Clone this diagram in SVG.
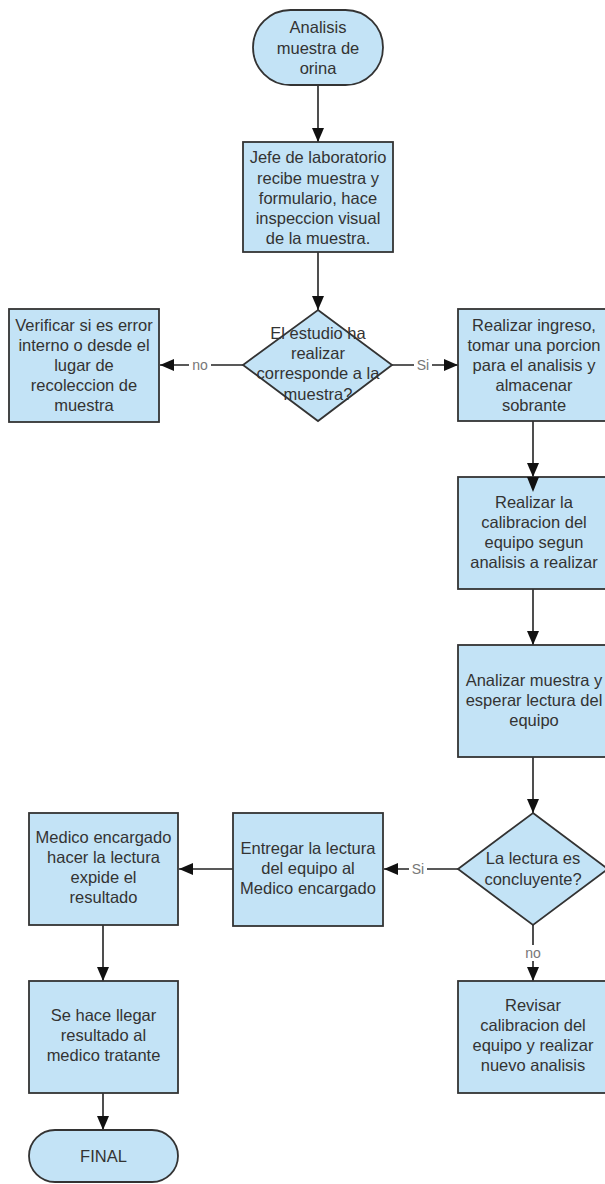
<svg xmlns="http://www.w3.org/2000/svg" width="605" height="1184" viewBox="0 0 605 1184">
<style>
.shape{fill:#c3e3f6;stroke:#333333;stroke-width:1.8}
.t{font-family:"Liberation Sans",Arial,sans-serif;font-size:16.5px;fill:#333333;text-anchor:middle}
.lbl{font-family:"Liberation Sans",Arial,sans-serif;font-size:14px;fill:#777777;text-anchor:middle}
.c{fill:none;stroke:#222222;stroke-width:1.6}
</style>
<defs>
<marker id="ah" markerUnits="userSpaceOnUse" markerWidth="14" markerHeight="12" refX="14" refY="6" orient="auto">
<path d="M0,0 L14,6 L0,12 z" fill="#111111"/>
</marker>
</defs>
<rect width="605" height="1184" fill="#ffffff"/>
<g id="connectors">
<line class="c" x1="318" y1="85" x2="318" y2="142" marker-end="url(#ah)"/>
<line class="c" x1="318" y1="252" x2="318" y2="310" marker-end="url(#ah)"/>
<line class="c" x1="243" y1="365" x2="160" y2="365" marker-end="url(#ah)"/>
<line class="c" x1="392" y1="365" x2="458" y2="365" marker-end="url(#ah)"/>
<line class="c" x1="533" y1="421" x2="533" y2="477" marker-end="url(#ah)"/>
<line class="c" x1="533" y1="589" x2="533" y2="645" marker-end="url(#ah)"/>
<line class="c" x1="533" y1="757" x2="533" y2="813" marker-end="url(#ah)"/>
<line class="c" x1="458" y1="869" x2="384" y2="869" marker-end="url(#ah)"/>
<line class="c" x1="533" y1="925" x2="533" y2="981" marker-end="url(#ah)"/>
<line class="c" x1="233" y1="869" x2="179" y2="869" marker-end="url(#ah)"/>
<line class="c" x1="103" y1="925" x2="103" y2="981" marker-end="url(#ah)"/>
<line class="c" x1="103" y1="1093" x2="103" y2="1130" marker-end="url(#ah)"/>
<rect x="189" y="357" width="22" height="16" fill="#ffffff"/>
<text class="lbl" x="200" y="370">no</text>
<rect x="414" y="357" width="18" height="16" fill="#ffffff"/>
<text class="lbl" x="423" y="370">Si</text>
<rect x="409" y="861" width="18" height="16" fill="#ffffff"/>
<text class="lbl" x="418" y="874">Si</text>
<rect x="522" y="945" width="22" height="16" fill="#ffffff"/>
<text class="lbl" x="533" y="958">no</text>
</g>
<g id="start">
<rect class="shape" x="253" y="10" width="130" height="75" rx="37.5" ry="37.5"/>
<text class="t" x="318" y="33">Analisis</text>
<text class="t" x="318" y="54">muestra de</text>
<text class="t" x="318" y="74">orina</text>
</g>
<g id="jefe">
<rect class="shape" x="243" y="142" width="150" height="110"/>
<text class="t" x="318" y="163">Jefe de laboratorio</text>
<text class="t" x="318" y="184">recibe muestra y</text>
<text class="t" x="318" y="204">formulario, hace</text>
<text class="t" x="318" y="224">inspeccion visual</text>
<text class="t" x="318" y="244">de la muestra.</text>
</g>
<g id="decision1">
<polygon class="shape" points="318,310 392,365 318,421 243,365"/>
<text class="t" x="318" y="339">El estudio ha</text>
<text class="t" x="318" y="359">realizar</text>
<text class="t" x="318" y="379">corresponde a la</text>
<text class="t" x="318" y="400">muestra?</text>
</g>
<g id="verificar">
<rect class="shape" x="9" y="309" width="150" height="113"/>
<text class="t" x="84" y="331">Verificar si es error</text>
<text class="t" x="84" y="351">interno o desde el</text>
<text class="t" x="84" y="371">lugar de</text>
<text class="t" x="84" y="391">recoleccion de</text>
<text class="t" x="84" y="411">muestra</text>
</g>
<g id="ingreso">
<rect class="shape" x="458" y="309" width="152" height="112"/>
<text class="t" x="534" y="331">Realizar ingreso,</text>
<text class="t" x="534" y="351">tomar una porcion</text>
<text class="t" x="534" y="371">para el analisis y</text>
<text class="t" x="534" y="391">almacenar</text>
<text class="t" x="534" y="411">sobrante</text>
</g>
<g id="calibracion">
<rect class="shape" x="458" y="477" width="152" height="112"/>
<path d="M527,477 L539,477 L533,492 z" fill="#111111"/>
<text class="t" x="534" y="508">Realizar la</text>
<text class="t" x="534" y="528">calibracion del</text>
<text class="t" x="534" y="548">equipo segun</text>
<text class="t" x="534" y="568">analisis a realizar</text>
</g>
<g id="analizar">
<rect class="shape" x="458" y="645" width="152" height="112"/>
<text class="t" x="534" y="686">Analizar muestra y</text>
<text class="t" x="534" y="706">esperar lectura del</text>
<text class="t" x="534" y="726">equipo</text>
</g>
<g id="decision2">
<polygon class="shape" points="533,813 608,869 533,925 458,869"/>
<text class="t" x="533" y="864">La lectura es</text>
<text class="t" x="533" y="885">concluyente?</text>
</g>
<g id="entregar">
<rect class="shape" x="233" y="813" width="150" height="113"/>
<text class="t" x="308" y="854">Entregar la lectura</text>
<text class="t" x="308" y="874">del equipo al</text>
<text class="t" x="308" y="894">Medico encargado</text>
</g>
<g id="medico">
<rect class="shape" x="29" y="813" width="149" height="112"/>
<text class="t" x="103.5" y="843">Medico encargado</text>
<text class="t" x="103.5" y="863">hacer la lectura</text>
<text class="t" x="103.5" y="883">expide el</text>
<text class="t" x="103.5" y="903">resultado</text>
</g>
<g id="revisar">
<rect class="shape" x="458" y="981" width="152" height="112"/>
<text class="t" x="533" y="1011">Revisar</text>
<text class="t" x="533" y="1031">calibracion del</text>
<text class="t" x="533" y="1051">equipo y realizar</text>
<text class="t" x="533" y="1071">nuevo analisis</text>
</g>
<g id="sehace">
<rect class="shape" x="29" y="981" width="149" height="112"/>
<text class="t" x="103.5" y="1021">Se hace llegar</text>
<text class="t" x="103.5" y="1041">resultado al</text>
<text class="t" x="103.5" y="1061">medico tratante</text>
</g>
<g id="final">
<rect class="shape" x="29" y="1130" width="149" height="52" rx="26" ry="26"/>
<text class="t" x="103.5" y="1161.5">FINAL</text>
</g>
</svg>
